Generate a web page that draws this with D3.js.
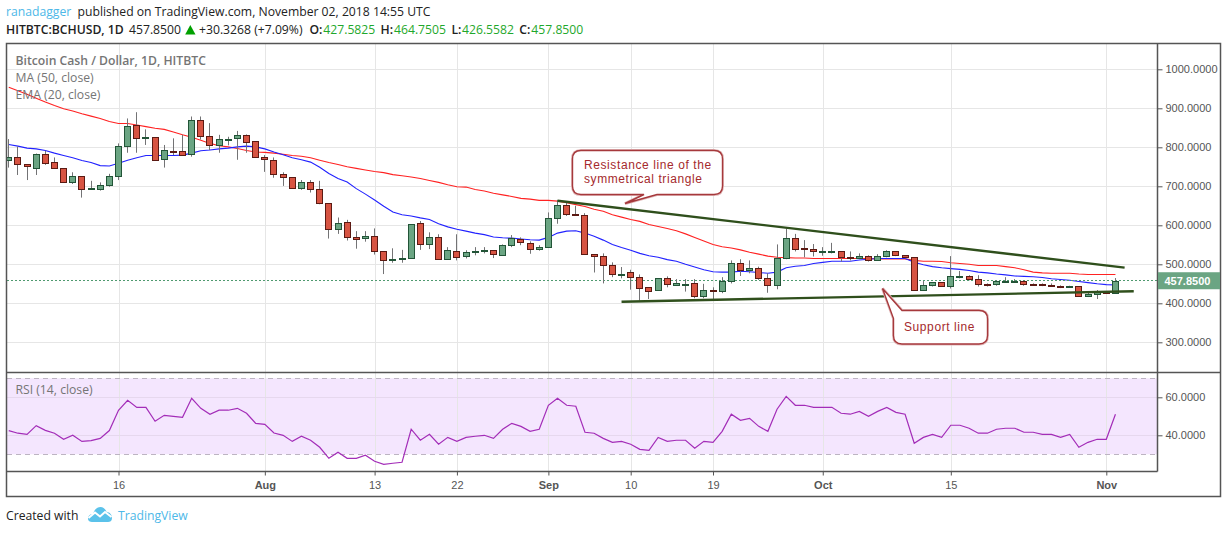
<!DOCTYPE html>
<html>
<head>
<meta charset="utf-8">
<script src="https://cdn.jsdelivr.net/npm/d3@7"></script>
<style>
  html, body { margin: 0; padding: 0; background: #fff; }
  svg { display: block; }
  text { font-family: "Liberation Sans", Arial, sans-serif; }
  .ui { font-family: "Open Sans", sans-serif; }
  .axis text { font-size: 11px; fill: #555; font-family: "Liberation Sans", Arial, sans-serif; }
  .axis path { display: none; }
  .axis line { stroke: #555; }
</style>
</head>
<body>
<div id="main"></div>
<script>
const opens = [766,774,756,749,784,762,746,710,726,694,
  694,702,726,803,856,825,826,769,790,790,
  781,869,828,805,821,823,831,815,774,767,
  731,723,695,710,692,656,590,608,569,567,
  572,533,510,514,515,605,551,569,513,533,
  521,531,533,536,523,549,564,554,539,544,
  618,651,628,626,526,521,498,474,480,467,
  441,433,464,446,449,451,418,433,431,456,
  503,485,490,464,446,515,567,541,539,533,
  533,533,518,515,521,510,521,533,523,518,
  433,446,454,444,468,469,462,449,449,456,
  456,456,449,449,446,444,442,444,418,423,
  428,427.5825];
const closes = [774,756,751,784,762,746,710,726,692,695,
  703,726,803,854,823,826,767,792,789,781,
  869,827,805,821,822,831,812,774,768,731,
  723,695,710,692,656,590,605,569,564,572,
  533,510,513,515,603,551,569,513,536,518,
  531,533,536,526,549,567,556,539,544,618,
  651,628,625,526,521,498,474,476,467,439,
  431,464,449,451,450,418,433,431,456,503,
  485,490,464,446,515,567,539,539,533,534,
  534,518,515,521,510,521,533,523,518,433,
  446,454,444,469,469,462,449,446,456,457,
  456,449,448,446,444,442,444,418,423,428,
  427.5232,457.85];
const highs = [821,802,757,784,791,774,746,736,726,714,
  710,732,810,874,890,846,826,806,823,832,
  879,879,862,832,827,842,833,815,780,774,
  736,723,716,716,714,656,620,614,585,585,
  592,533,541,537,603,611,582,577,544,577,
  536,544,544,536,551,575,569,559,549,633,
  665,659,650,631,526,528,505,493,486,474,
  441,464,469,462,462,462,450,441,467,510,
  513,510,494,477,551,592,578,562,552,544,
  555,533,533,528,523,526,536,533,523,518,
  457,454,454,521,483,472,472,451,459,467,
  462,459,451,451,451,446,445,444,428,434,
  430,464.7505];
const lows = [748,729,716,729,755,746,710,706,671,692,
  689,699,716,786,786,806,767,748,780,778,
  776,820,793,786,805,768,786,774,737,722,
  701,695,691,684,654,566,578,561,540,558,
  525,475,504,504,515,537,539,513,513,510,
  515,523,528,516,523,544,549,527,535,544,
  604,624,624,526,479,451,467,464,435,407,
  411,433,441,446,430,413,413,410,426,451,
  470,477,460,427,436,513,533,518,520,522,
  528,507,510,513,507,510,518,521,515,433,
  433,443,443,438,464,459,443,443,445,454,
  454,445,446,444,442,439,441,418,416,411,
  426,426.5582];
const ma50 = [954,945,936,926,916,907,899,893,886,880,
  874,866,861,861,857,853,849,846,839,832,
  826,818,810,804,801,797,792,788,787,785,
  782,779,777,773,767,761,756,750,746,742,
  738,735,730,727,724,720,715,710,704,699,
  698,692,688,682,678,674,669,667,664,664,
  662,658,653,648,641,636,627,621,615,610,
  602,597,592,586,578,569,560,551,545,542,
  537,531,526,521,518,517,516,516,515,515,
  515,515,515,515,515,514,514,514,514,510,
  508,508,507,504,502,500,497,497,497,494,
  491,486,480,478,477,477,477,475,474,474,
  474,474];
const ema20 = [807,803,798,796,792,785,779,773,766,761,
  753,752,759,767,773,779,779,779,779,780,
  785,791,793,796,798,801,803,801,796,788,
  781,773,768,762,749,733,720,711,694,680,
  665,649,634,627,624,619,615,604,596,590,
  585,580,576,570,568,567,565,563,562,569,
  580,585,586,580,572,562,551,543,536,528,
  522,518,512,508,500,493,486,481,480,480,
  482,481,479,477,480,491,495,497,502,505,
  508,508,508,511,513,515,515,515,515,505,
  499,494,491,489,487,484,480,478,475,473,
  470,469,468,466,463,461,459,456,453,450,
  448,447];
const rsi = [42.5,41.1,40.5,45.1,42.6,41.1,37.9,40,36.8,37.2,
  38.4,42.5,53.2,58.4,54.7,54.7,47.4,50.5,50,49.5,
  59.5,54.2,51.1,53.2,53.2,54.2,51.6,46.3,45.8,41.2,
  40,36.8,39.5,37.4,33.7,27.9,31.1,27.9,27.9,29.5,
  26.3,24.7,25.3,25.8,43.2,37.4,40.5,35.3,38.9,36.8,
  38.9,39.5,40,38.4,43.2,46.3,44.7,42.1,43.2,55.8,
  59.5,55.8,55.3,41.6,41.1,38.4,36.3,36.8,35.3,32.6,
  32.1,38.9,36.8,37.4,37.4,33.2,36.8,36.3,42.1,51.1,
  47.9,48.9,44.7,42.1,53.7,60.5,55.8,55.8,54.7,54.7,
  54.7,51.6,51.1,52.6,50,52.6,54.7,52.1,51.1,35.8,
  38.9,40.5,38.9,45.3,45.3,43.7,41.1,41.1,43.2,43.7,
  43.7,41.6,41.6,40.5,40.5,38.9,40.5,33.7,36.3,37.9,
  37.9,51.1];

const priceTicks = [300,400,500,600,700,800,900,1000];
const rsiTicks = [40,60];
const rsiBands = [30,70];
const lastClose = 457.85;
const parseDay = d3.utcParse('%Y-%m-%d');
const firstDay = parseDay('2018-07-04');
const timeTicks = ['2018-07-16','2018-08-01','2018-08-13','2018-08-22','2018-09-01','2018-09-10','2018-09-19','2018-10-01','2018-10-15','2018-11-01'].map(parseDay);
const timeLabels = ['16','Aug','13','22','Sep','10','19','Oct','15','Nov'];
const resistanceLine = [['2018-09-02',663],['2018-11-03',491.5]];
const supportLine = [['2018-09-09',404],['2018-11-04',431]];

const width = 1227, height = 533;
const left = 7, right = 1157.5, paneTop = 43.5, paneBottom = 372.5, rsiBottom = 471.5, frameRight = 1220.5, frameBottom = 496.5;

const candles = opens.map((o, i) => ({
  date: d3.utcDay.offset(firstDay, i), o, c: closes[i], h: highs[i], l: lows[i]
}));

const x = d3.scaleUtc().domain([parseDay('2018-07-16'), parseDay('2018-11-01')]).range([118.5, 1106.3]);
const y = d3.scaleLinear().domain([300, 1000]).range([342.3, 69.3]);
const yRsi = d3.scaleLinear().domain([40, 60]).range([435.3, 397.3]);
const snap = v => Math.round(v) + 0.5;

const svg = d3.select('#main').append('svg').attr('width', width).attr('height', height);
const defs = svg.append('defs');
defs.append('clipPath').attr('id', 'mainClip').append('rect')
  .attr('x', left).attr('y', paneTop).attr('width', right - left).attr('height', paneBottom - paneTop);
defs.append('clipPath').attr('id', 'rsiClip').append('rect')
  .attr('x', left).attr('y', paneBottom).attr('width', right - left).attr('height', rsiBottom - paneBottom);

// rsi band goes under the grid
svg.append('rect').attr('x', left).attr('width', right - left)
  .attr('y', yRsi(70)).attr('height', yRsi(30) - yRsi(70)).attr('fill', '#f4e6fe');

// grid
const grid = svg.append('g').attr('stroke', '#e6e6e6').attr('stroke-width', 1);
grid.selectAll('.gx').data(timeTicks).join('line')
  .attr('x1', d => snap(x(d))).attr('x2', d => snap(x(d))).attr('y1', paneTop).attr('y2', rsiBottom);
grid.selectAll('.gy').data(priceTicks).join('line')
  .attr('x1', left).attr('x2', right).attr('y1', d => snap(y(d))).attr('y2', d => snap(y(d)));
grid.selectAll('.gr').data(rsiTicks).join('line')
  .attr('x1', left).attr('x2', right).attr('y1', d => snap(yRsi(d))).attr('y2', d => snap(yRsi(d)))
  .attr('stroke', '#e6d8ee');

svg.append('g').selectAll('line').data(rsiBands).join('line')
  .attr('x1', left).attr('x2', right).attr('y1', d => snap(yRsi(d))).attr('y2', d => snap(yRsi(d)))
  .attr('stroke', '#bdb4c2').attr('stroke-dasharray', '5,4');

// moving averages
const plot = svg.append('g').attr('clip-path', 'url(#mainClip)');
const priceLine = d3.line().x((d, i) => x(candles[i].date)).y(d => y(d));
plot.append('path').attr('d', priceLine(ma50)).attr('fill', 'none').attr('stroke', '#ff2222').attr('stroke-width', 1.1);
plot.append('path').attr('d', priceLine(ema20)).attr('fill', 'none').attr('stroke', '#2222ff').attr('stroke-width', 1.1);

// last price line
plot.append('line').attr('x1', left).attr('x2', right)
  .attr('y1', Math.floor(y(lastClose)) + 0.5).attr('y2', Math.floor(y(lastClose)) + 0.5)
  .attr('stroke', '#4f9a70').attr('stroke-dasharray', '2,2');

// candles
const candle = plot.selectAll('g.candle').data(candles).join('g').attr('class', 'candle');
candle.append('line')
  .attr('x1', d => Math.floor(x(d.date)) + 0.5).attr('x2', d => Math.floor(x(d.date)) + 0.5)
  .attr('y1', d => y(d.h)).attr('y2', d => y(d.l))
  .attr('stroke', '#737375');
candle.append('rect')
  .attr('x', d => Math.floor(x(d.date)) - 2.5).attr('width', 6)
  .attr('y', d => snap(y(Math.max(d.o, d.c))))
  .attr('height', d => Math.max(1, Math.round(Math.abs(y(d.o) - y(d.c)))))
  .attr('fill', d => d.c >= d.o ? '#6ba583' : '#d75442')
  .attr('stroke', d => d.c >= d.o ? '#225437' : '#5b1a13');

// trend lines
const trend = d3.line().x(d => x(parseDay(d[0]))).y(d => y(d[1]));
[resistanceLine, supportLine].forEach(t => {
  plot.append('path').attr('d', trend(t)).attr('fill', 'none').attr('stroke', '#2f4f1c').attr('stroke-width', 2.4);
});

// callouts, the tail tip hangs off the box
function callout(d, lines, tx) {
  const g = svg.append('g');
  g.append('path').attr('d', d).attr('fill', '#fff').attr('stroke', '#e0b7b8').attr('stroke-width', 3);
  g.append('path').attr('d', d).attr('fill', '#fff').attr('stroke', '#a6393c').attr('stroke-width', 1.4);
  const label = g.append('text').attr('fill', '#a52a2d').attr('font-size', 12).attr('letter-spacing', 0.59);
  label.selectAll('tspan').data(lines).join('tspan').attr('x', tx).attr('y', l => l.y).text(l => l.t);
}
callout('M581,150.5 H714 Q722.5,150.5 722.5,159 V186 Q722.5,194.5 714,194.5 H657 L625,203.5 L644,194.5 H581 Q572.5,194.5 572.5,186 V159 Q572.5,150.5 581,150.5 Z',
  [{t: 'Resistance line of the', y: 169}, {t: 'symmetrical triangle', y: 183}], 584);
callout('M902,310.5 H979 Q987.5,310.5 987.5,319 V335.5 Q987.5,344 979,344 H902 Q893.5,344 893.5,335.5 V318.5 L882.5,288.5 Z',
  [{t: 'Support line', y: 331}], 904);

// rsi line
svg.append('g').attr('clip-path', 'url(#rsiClip)').append('path')
  .attr('d', d3.line().x((d, i) => x(candles[i].date)).y(d => yRsi(d))(rsi))
  .attr('fill', 'none').attr('stroke', '#a32db8').attr('stroke-width', 1.2);

// frames
const frame = svg.append('g').attr('fill', 'none').attr('stroke', '#555').attr('stroke-width', 1.5);
frame.append('rect').attr('x', 6.5).attr('y', paneTop).attr('width', frameRight - 6.5).attr('height', frameBottom - paneTop);
frame.append('line').attr('x1', 6.5).attr('x2', frameRight).attr('y1', paneBottom).attr('y2', paneBottom);
frame.append('line').attr('x1', right).attr('x2', right).attr('y1', paneTop).attr('y2', rsiBottom);
frame.append('line').attr('x1', 6.5).attr('x2', right).attr('y1', rsiBottom).attr('y2', rsiBottom);

// axes
svg.append('g').attr('class', 'axis').attr('transform', `translate(${right},0)`)
  .call(d3.axisRight(y).tickValues(priceTicks).tickFormat(d3.format('.4f')).tickSize(5).tickPadding(3));
svg.append('g').attr('class', 'axis').attr('transform', `translate(${right},0)`)
  .call(d3.axisRight(yRsi).tickValues(rsiTicks).tickFormat(d3.format('.4f')).tickSize(5).tickPadding(3));
const xAxis = svg.append('g').attr('class', 'axis').attr('transform', `translate(0,${rsiBottom})`)
  .call(d3.axisBottom(x).tickValues(timeTicks).tickFormat((d, i) => timeLabels[i]).tickSize(4).tickPadding(6));
xAxis.selectAll('text').style('font-weight', (d, i) => isNaN(+timeLabels[i]) ? 'bold' : 'normal');

// last price label
svg.append('rect').attr('x', right + 0.5).attr('y', y(lastClose) - 8.5).attr('width', frameRight - right - 1).attr('height', 17).attr('fill', '#6ba583');
svg.append('text').attr('x', right + 7).attr('y', y(lastClose) + 4).attr('fill', '#fff')
  .attr('font-size', 11).attr('font-weight', 'bold').text(d3.format('.4f')(lastClose));

// legends
const legend = [
  {t: 'Bitcoin Cash / Dollar, 1D, HITBTC', y: 64.5, w: 600},
  {t: 'MA (50, close)', y: 81.5, w: 400},
  {t: 'EMA (20, close)', y: 98.5, w: 400},
  {t: 'RSI (14, close)', y: 393.5, w: 400}
];
svg.append('g').selectAll('text').data(legend).join('text').attr('class', 'ui')
  .attr('x', 15.5).attr('y', d => d.y).attr('font-size', 12.2).attr('font-weight', d => d.w).attr('fill', '#757575').text(d => d.t);

// header
function put(tx, ty, t, opts) {
  const o = opts || {};
  svg.append('text').attr('class', 'ui').attr('x', tx).attr('y', ty)
    .attr('font-size', o.size || 12.2).attr('font-weight', o.w || 400).attr('fill', o.c || '#222').text(t);
}
const upGreen = '#1fa82c', linkBlue = '#4db8e8';
put(6, 16, 'ranadagger', {c: linkBlue});
put(77.5, 16, 'published on TradingView.com, November 02, 2018 14:55 UTC');
put(6, 34, 'HITBTC:BCHUSD, 1D', {w: 600});
put(129, 34, '457.8500');
svg.append('path').attr('d', 'M190.3,25 L195.5,34.5 H185.2 Z').attr('fill', '#00a000');
put(199, 34, '+30.3268 (+7.09%)');
[['O:', 309.5, 323.3, opens], ['H:', 380.5, 394, highs], ['L:', 451.5, 462, lows], ['C:', 519.3, 531.3, closes]].forEach(f => {
  put(f[1], 34, f[0], {w: 600});
  put(f[2], 34, d3.format('.4f')(f[3][f[3].length - 1]), {c: upGreen});
});

// footer
put(6, 520, 'Created with');
const logo = svg.append('g').attr('transform', 'translate(88,507)');
logo.append('path').attr('d', 'M0,12 C0,8 3,7 5,7 C6,3 9,0 12.5,0 C16,0 18,3 18.5,5 C22,5 24,8 24,11 C24,14 22,15 20,15 H4 C2,15 0,14 0,12 Z').attr('fill', '#5bc2ea');
logo.append('path').attr('d', 'M0.5,11 L7,5.5 L12,9.5 L17,5 L23.5,10').attr('fill', 'none').attr('stroke', '#fff').attr('stroke-width', 2);
put(118, 520, 'TradingView', {c: linkBlue});
</script>
</body>
</html>
